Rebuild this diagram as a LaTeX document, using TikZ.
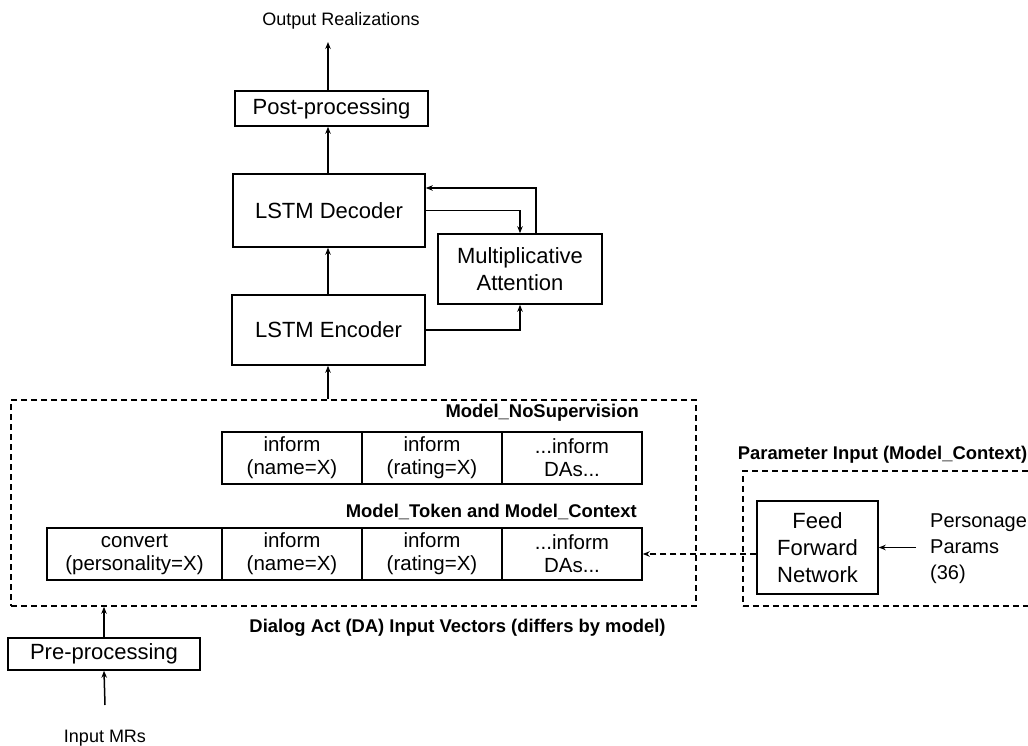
\documentclass[tikz,border=0pt]{standalone}
\usepackage{fontspec}
\setmainfont{Liberation Sans}
\usetikzlibrary{arrows.meta,calc}

\tikzset{
  conn/.style={line width=1.5pt,-{Stealth[length=7pt,width=5.5pt]}},
  dconn/.style={conn,dash pattern=on 6pt off 4pt},
  block/.style={draw,line width=1.5pt,rectangle,inner sep=0pt,align=center,
    font=\fontsize{22}{27}\selectfont},
  cell/.style={draw,line width=1.5pt,rectangle,inner sep=0pt,align=center,
    minimum height=52pt,font=\fontsize{20.5}{23}\selectfont},
  group/.style={draw,line width=1.5pt,dash pattern=on 6pt off 4pt,rectangle,inner sep=0pt},
  heading/.style={inner sep=0pt,font=\fontsize{18.4}{21}\selectfont\bfseries},
  plain/.style={inner sep=0pt,align=left,font=\fontsize{18}{20}\selectfont},
}

\begin{document}
\begin{tikzpicture}[x=1pt,y=-1pt]
\useasboundingbox (0,0) rectangle (1028,746);
\clip (0,0) rectangle (1028,746);

% spine of the main pipeline
\coordinate (spine) at (328,0);

% decoder / encoder stack
\node[block,minimum width=193pt,minimum height=35pt] (post) at (331.5,108.5) {Post-processing};
\node[block,minimum width=192pt,minimum height=73pt] (dec) at (329,210.5) {LSTM Decoder};
\node[block,minimum width=164pt,minimum height=70pt] (att) at (520,269) {Multiplicative\\Attention};
\node[block,minimum width=193pt,minimum height=70pt] (enc) at (328.5,330) {LSTM Encoder};

\node[plain] (out) at (341,21) {Output Realizations};
\coordinate (outend) at (328,42);

% dialog act input vectors
\node[group,minimum width=685pt,minimum height=206pt] (dabox) at (353.5,503) {};
\node[heading,anchor=east] (hns) at (639,413) {Model\_NoSupervision};
\node[cell,minimum width=140pt] (a1) at (292,458) {inform\\(name=X)};
\node[cell,minimum width=140pt] (a2) at (432,458) {inform\\(rating=X)};
\node[cell,minimum width=140pt] (a3) at (572,458) {...inform\\DAs...};

\node[heading,anchor=east] (htc) at (637,512) {Model\_Token and Model\_Context};
\node[cell,minimum width=175pt] (r1) at (134.5,554) {convert\\(personality=X)};
\node[cell,minimum width=140pt] (r2) at (292,554) {inform\\(name=X)};
\node[cell,minimum width=140pt] (r3) at (432,554) {inform\\(rating=X)};
\node[cell,minimum width=140pt] (r4) at (572,554) {...inform\\DAs...};

\node[heading] (hda) at (457.5,628) {Dialog Act (DA) Input Vectors (differs by model)};

% parameter input
\node[heading] (hpi) at (882.5,455) {Parameter Input (Model\_Context)};
\node[group,minimum width=300pt,minimum height=135pt,anchor=north west] (pbox) at (742,470) {};
\node[block,minimum width=121pt,minimum height=93pt] (ffn) at (817.5,547.5) {Feed\\Forward\\Network};
\node[anchor=west,inner sep=0pt,align=left,font=\fontsize{20}{26}\selectfont] (pers) at (930,549) {Personage\\Params\\(36)};
\coordinate (persend) at (916,547.5);

% pre-processing
\node[block,minimum width=192pt,minimum height=32pt] (pre) at (104,654) {Pre-processing};
\node[plain] (inp) at (105,738) {Input MRs};
\coordinate (inpend) at (105,705);

% connectors
\draw[conn] (post.north -| spine) -- (outend);
\draw[conn] (dec.north -| spine) -- (post.south -| spine);
\draw[conn] (enc.north -| spine) -- (dec.south -| spine);
\draw[conn] (dabox.north -| spine) -- (enc.south -| spine);
\coordinate (fb) at (536,188);
\draw[conn] (att.north -| fb) |- (dec.east |- fb);
\draw[conn] (dec.east) -| (att.north);
\draw[conn] (enc.east) -| (att.south);
\draw[dconn] (ffn.west |- r4.east) -- (r4.east);
\draw[conn] (persend) -- (ffn.east);
\draw[conn] (pre.north) -- (pre.north |- dabox.south);
\draw[conn] (inpend) -- (pre.south);
\end{tikzpicture}
\end{document}
